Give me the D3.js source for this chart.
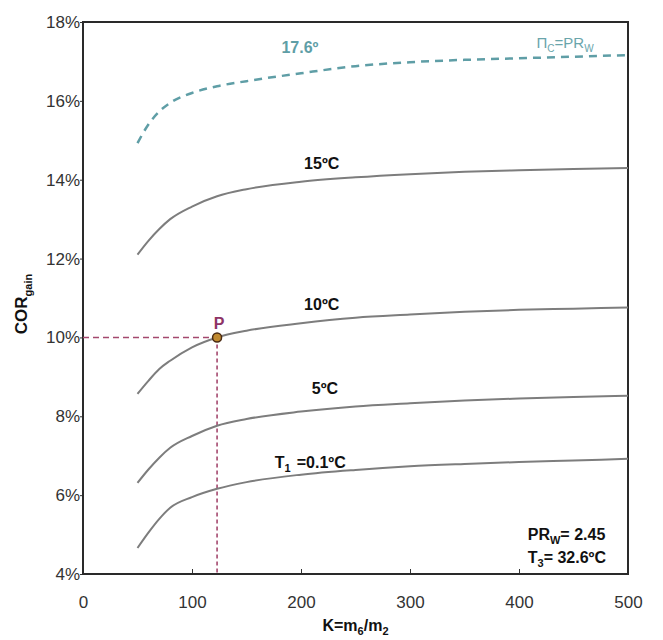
<!DOCTYPE html>
<html lang="en">
<head>
<meta charset="UTF-8">
<title>COR gain vs K</title>
<script src="https://d3js.org/d3.v7.min.js"></script>
<style>
  body { margin: 0; background: #fff; }
  svg text { font-family: "Liberation Sans", Arial, sans-serif; }
  .tick text { font-size: 17px; fill: #333; }
  .tick line { stroke: #333; }
  .lbl { font-size: 16px; font-weight: bold; fill: #111; }
</style>
</head>
<body>
<svg width="663" height="640"></svg>
<script>
// values
var kValues = [50, 60, 70, 80, 100, 123, 150, 200, 250, 300, 350, 400, 450, 500];
var copLimit = [14.93, 15.40, 15.73, 15.95, 16.20, 16.37, 16.50, 16.70, 16.88, 16.98, 17.04, 17.08, 17.12, 17.16];
var cop15 = [12.10, 12.45, 12.75, 13.00, 13.32, 13.58, 13.76, 13.95, 14.06, 14.14, 14.20, 14.24, 14.27, 14.30];
var cop10 = [8.57, 8.90, 9.20, 9.41, 9.75, 10.00, 10.17, 10.36, 10.50, 10.58, 10.65, 10.70, 10.73, 10.76];
var cop5 = [6.31, 6.65, 6.95, 7.20, 7.50, 7.76, 7.93, 8.12, 8.25, 8.33, 8.40, 8.45, 8.49, 8.52];
var cop01 = [4.66, 5.05, 5.40, 5.68, 5.95, 6.16, 6.33, 6.52, 6.64, 6.73, 6.79, 6.84, 6.88, 6.92];
var pointP = [123, 10];
var xTicks = [0, 100, 200, 300, 400, 500];
var yTicks = [4, 6, 8, 10, 12, 14, 16, 18];

var svg = d3.select("svg");
var x = d3.scaleLinear().domain([0, 500]).range([83, 628]);
var y = d3.scaleLinear().domain([4, 18]).range([574, 22]);

// axes
svg.append("g")
    .attr("transform", "translate(0," + y(4) + ")")
    .call(d3.axisBottom(x).tickValues(xTicks).tickSize(-5).tickPadding(22))
    .call(function(g) { g.select(".domain").remove(); });

svg.append("g")
    .attr("transform", "translate(" + x(0) + ",0)")
    .call(d3.axisLeft(y).tickValues(yTicks).tickSize(3).tickPadding(0)
        .tickFormat(function(d) { return d + "%"; }))
    .call(function(g) { g.select(".domain").remove(); });

// frame
svg.append("rect")
    .attr("x", x(0)).attr("y", y(18))
    .attr("width", x(500) - x(0)).attr("height", y(4) - y(18))
    .attr("fill", "none").attr("stroke", "#2a2a2a").attr("stroke-width", 2);

// P guide lines
svg.append("line")
    .attr("x1", x(0)).attr("y1", y(pointP[1]))
    .attr("x2", x(pointP[0])).attr("y2", y(pointP[1]))
    .attr("stroke", "#a4486e").attr("stroke-width", 1.6).attr("stroke-dasharray", "6,4");
svg.append("line")
    .attr("x1", x(pointP[0])).attr("y1", y(pointP[1]))
    .attr("x2", x(pointP[0])).attr("y2", y(4))
    .attr("stroke", "#a4486e").attr("stroke-width", 1.6).attr("stroke-dasharray", "4,3");

var line = d3.line()
    .x(function(d, i) { return x(kValues[i]); })
    .y(function(d) { return y(d); })
    .curve(d3.curveMonotoneX);

[cop15, cop10, cop5, cop01].forEach(function(s) {
    svg.append("path")
        .attr("d", line(s))
        .attr("fill", "none")
        .attr("stroke", "#7d7d7d")
        .attr("stroke-width", 2);
});

svg.append("path")
    .attr("d", line(copLimit))
    .attr("fill", "none")
    .attr("stroke", "#5f9ea6")
    .attr("stroke-width", 2.5)
    .attr("stroke-dasharray", "8,6");

// point P
svg.append("circle")
    .attr("cx", x(pointP[0])).attr("cy", y(pointP[1]))
    .attr("r", 4.5)
    .attr("fill", "#c08a30").attr("stroke", "#4a2a12").attr("stroke-width", 1.5);
svg.append("text")
    .attr("class", "lbl")
    .attr("x", x(pointP[0]) + 2).attr("y", y(pointP[1]) - 8)
    .attr("text-anchor", "middle")
    .style("fill", "#8e3466")
    .text("P");

// curve labels
function label(k, v, txt, anchor) {
    return svg.append("text")
        .attr("class", "lbl")
        .attr("x", x(k)).attr("y", y(v))
        .attr("text-anchor", anchor || "middle")
        .text(txt);
}
label(219, 14.27, "15ºC");
label(219, 10.69, "10ºC");
label(222, 8.56, "5ºC");

var t1 = label(176, 6.7, "", "start");
t1.append("tspan").text("T");
t1.append("tspan").attr("dy", 4).attr("font-size", 11).text("1");
t1.append("tspan").attr("dy", -4).attr("dx", 6).text("=0.1ºC");

label(199, 17.21, "17.6º").style("fill", "#5f9ea6");

var pic = svg.append("text")
    .attr("x", x(416)).attr("y", y(17.34))
    .attr("font-size", 15).attr("fill", "#6aa5ab");
pic.append("tspan").text("Π");
pic.append("tspan").attr("dy", 4).attr("font-size", 10).text("C");
pic.append("tspan").attr("dy", -4).text("=PR");
pic.append("tspan").attr("dy", 4).attr("font-size", 10).text("W");

var pr = label(408, 4.86, "", "start");
pr.append("tspan").text("PR");
pr.append("tspan").attr("dy", 4).attr("font-size", 11).text("W");
pr.append("tspan").attr("dy", -4).text("= 2.45");

var t3 = label(408, 4.28, "", "start");
t3.append("tspan").text("T");
t3.append("tspan").attr("dy", 4).attr("font-size", 11).text("3");
t3.append("tspan").attr("dy", -4).text("= 32.6ºC");

// axis titles
var xt = svg.append("text")
    .attr("class", "lbl")
    .attr("x", x(250)).attr("y", 631)
    .attr("text-anchor", "middle");
xt.append("tspan").text("K=m");
xt.append("tspan").attr("dy", 4).attr("font-size", 11).text("6");
xt.append("tspan").attr("dy", -4).text("/m");
xt.append("tspan").attr("dy", 4).attr("font-size", 11).text("2");

var yt = svg.append("text")
    .attr("class", "lbl")
    .attr("transform", "translate(27," + 304 + ") rotate(-90)")
    .attr("text-anchor", "middle")
    .style("font-size", "17px");
yt.append("tspan").text("COR");
yt.append("tspan").attr("dy", 5).attr("font-size", 11).text("gain");
</script>
</body>
</html>
